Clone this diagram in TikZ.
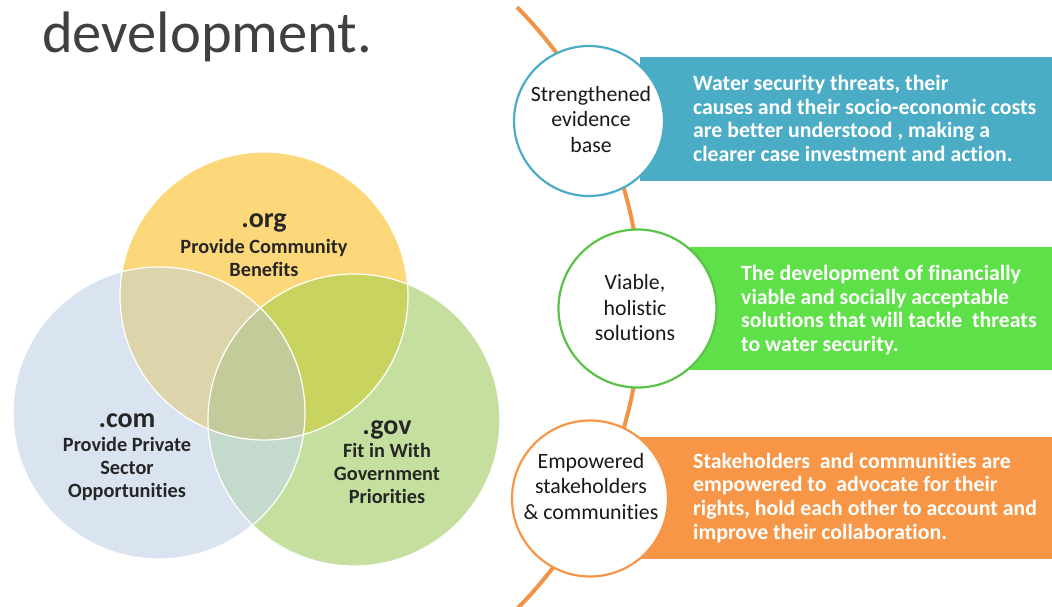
\documentclass[tikz,border=0pt]{standalone}
\usepackage{fontspec}
\setmainfont{Carlito}[Ligatures=CommonOff]
\definecolor{titlegray}{RGB}{64,64,64}
\definecolor{venntext}{RGB}{38,38,38}
\definecolor{vyellow}{RGB}{253,216,122}
\definecolor{vblue}{RGB}{218,227,240}
\definecolor{vgreen}{RGB}{197,224,158}
\definecolor{vyb}{RGB}{222,212,172}
\definecolor{vyg}{RGB}{200,212,95}
\definecolor{vbg}{RGB}{195,218,205}
\definecolor{vybg}{RGB}{195,203,155}
\definecolor{bandteal}{RGB}{75,172,198}
\definecolor{bandgreen}{RGB}{94,224,72}
\definecolor{bandorange}{RGB}{247,150,70}
\definecolor{arcorange}{RGB}{242,148,72}
\definecolor{ringtextc}{RGB}{25,25,25}
\tikzset{
  vennedge/.style={draw=white, line width=1.2pt},
  vhead/.style={font=\fontsize{28}{32}\selectfont\bfseries, text=venntext, inner sep=0pt},
  vbody/.style={font=\fontsize{20.3}{23}\selectfont\bfseries, text=venntext, align=center, inner sep=0pt},
  ring/.style={circle, fill=white, line width=2.2pt, inner sep=0pt},
  ringtext/.style={font=\fontsize{21.8}{25.5}\selectfont, text=ringtextc, align=center, inner sep=0pt},
  band/.style={rectangle, inner sep=0pt, anchor=west},
  bandtext/.style={font=\fontsize{21.8}{23.8}\selectfont\bfseries, text=white, align=left, inner sep=0pt, anchor=west},
  arcline/.style={draw=arcorange, line width=4pt},
}
\begin{document}
\begin{tikzpicture}[x=1pt,y=1pt]
\useasboundingbox (0,0) rectangle (1052,606);
\clip (0,0) rectangle (1052,606);

% title
\node[anchor=base west, inner sep=0pt, text=titlegray, font=\fontsize{58.5}{62}\selectfont] (title) at (42,553.3) {development.};

% Venn diagram
\coordinate (corg) at (264,310);
\coordinate (ccom) at (159,193);
\coordinate (cgov) at (354,186);
\fill[vyellow] (corg) circle[radius=144];
\fill[vblue] (ccom) circle[radius=146];
\fill[vgreen] (cgov) circle[radius=146];
\begin{scope}
  \clip (corg) circle[radius=144];
  \fill[vyb] (ccom) circle[radius=146];
\end{scope}
\begin{scope}
  \clip (corg) circle[radius=144];
  \fill[vyg] (cgov) circle[radius=146];
\end{scope}
\begin{scope}
  \clip (ccom) circle[radius=146];
  \fill[vbg] (cgov) circle[radius=146];
\end{scope}
\begin{scope}
  \clip (corg) circle[radius=144];
  \clip (ccom) circle[radius=146];
  \fill[vybg] (cgov) circle[radius=146];
\end{scope}
\draw[vennedge] (corg) circle[radius=144];
\draw[vennedge] (ccom) circle[radius=146];
\draw[vennedge] (cgov) circle[radius=146];

\node[vhead, anchor=base] (orgH) at (264,378) {.org};
\node[vbody] (orgB) at (264,347.7) {Provide Community\\Benefits};
\node[vhead, anchor=base] (comH) at (127,179) {.com};
\node[vbody] (comB) at (127,136.7) {Provide Private\\Sector\\Opportunities};
\node[vhead, anchor=base] (govH) at (387,172) {.gov};
\node[vbody] (govB) at (387,132.2) {Fit in With\\Government\\Priorities};

% orange arc
\draw[arcline] ([shift={(214,298)}]44.8:427) arc[start angle=44.8, end angle=-47, radius=427];

% bands
\node[band, fill=bandteal, minimum width=412, minimum height=124] (b1) at (640,487) {};
\node[band, fill=bandgreen, minimum width=362, minimum height=123.3] (b2) at (690,297.7) {};
\node[band, fill=bandorange, minimum width=412, minimum height=122.3] (b3) at (640,108.2) {};

% rings
\node[ring, draw=bandteal, minimum size=150] (r1) at (589,485) {};
\node[ring, draw=bandgreen!85!black!95, minimum size=158] (r2) at (637.5,297.5) {};
\node[ring, draw=bandorange, minimum size=156] (r3) at (590,107.5) {};

\node[ringtext] (t1) at (591,486.7) {Strengthened\\evidence\\base};
\node[ringtext] (t2) at (635,298.2) {Viable,\\holistic\\solutions};
\node[ringtext] (t3) at (591,119.7) {Empowered\\stakeholders\\\& communities};

% band texts
\node[bandtext] (d1) at (693,487.5) {Water security threats, their\\causes and their socio-economic costs\\are better understood , making a\\clearer case investment and action.};
\node[bandtext] (d2) at (741,295.9) {The development of financially\\viable and socially acceptable\\solutions that will tackle\ \ threats\\to water security.};
\node[bandtext] (d3) at (693,108.2) {Stakeholders\ \ and communities are\\empowered to\ \ advocate for their\\rights, hold each other to account and\\improve their collaboration.};
\end{tikzpicture}
\end{document}
